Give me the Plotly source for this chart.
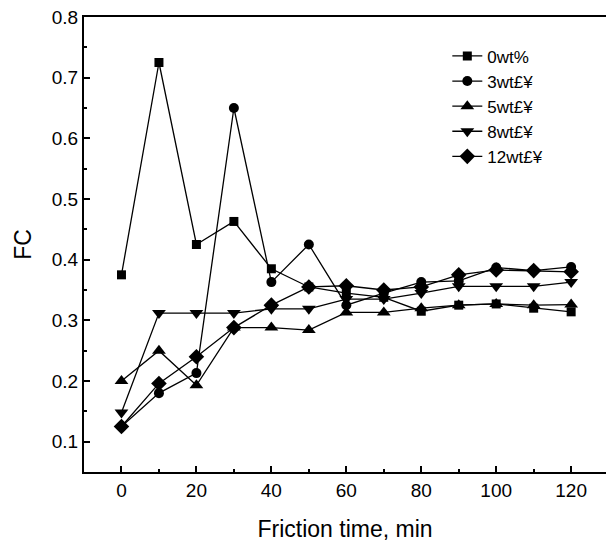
import plotly.graph_objects as go

time_min = [0, 10, 20, 30, 40, 50, 60, 70, 80, 90, 100, 110, 120]
fc_0wt = [0.375, 0.725, 0.425, 0.463, 0.385, 0.355, 0.345, 0.338, 0.315, 0.325, 0.327, 0.320, 0.314]
fc_3wt = [0.125, 0.180, 0.213, 0.650, 0.363, 0.425, 0.325, 0.345, 0.363, 0.365, 0.387, 0.382, 0.388]
fc_5wt = [0.200, 0.250, 0.193, 0.288, 0.288, 0.284, 0.313, 0.313, 0.320, 0.325, 0.327, 0.325, 0.326]
fc_8wt = [0.148, 0.312, 0.312, 0.312, 0.319, 0.319, 0.335, 0.335, 0.345, 0.356, 0.356, 0.356, 0.363]
fc_12wt = [0.125, 0.196, 0.240, 0.288, 0.325, 0.355, 0.357, 0.350, 0.355, 0.375, 0.383, 0.382, 0.380]

series_names = ["0wt%", "3wt£¥", "5wt£¥", "8wt£¥", "12wt£¥"]
series_values = [fc_0wt, fc_3wt, fc_5wt, fc_8wt, fc_12wt]
symbols = ["square", "circle", "triangle-up", "triangle-down", "diamond"]
sizes = [9, 10, 12, 12, 12]

FONT = "Liberation Sans, Arial, sans-serif"

fig = go.Figure()
for name, vals, sym, sz in zip(series_names, series_values, symbols, sizes):
    fig.add_trace(go.Scatter(
        x=time_min, y=vals, name=name, mode="lines+markers",
        line=dict(color="black", width=1.3),
        marker=dict(symbol=sym, size=sz, color="black", line=dict(width=0)),
    ))

fig.update_layout(
    width=606, height=542,
    margin=dict(l=84, r=0, t=17, b=70),
    paper_bgcolor="white", plot_bgcolor="white",
    font=dict(family=FONT, color="black", size=19),
    showlegend=True,
    legend=dict(
        x=0.696, y=0.953, xanchor="left", yanchor="top",
        bgcolor="rgba(0,0,0,0)", borderwidth=0,
        font=dict(family=FONT, size=17, color="black"),
        tracegroupgap=0, itemwidth=30,
    ),
)

fig.update_xaxes(
    range=[-10, 129.3], tickmode="array", automargin=False,
    tickvals=[0, 20, 40, 60, 80, 100, 120],
    ticks="inside", ticklen=6, tickwidth=1.5, tickcolor="black",
    minor=dict(tickvals=[10, 30, 50, 70, 90, 110], ticks="inside", ticklen=3, tickwidth=1.5, tickcolor="black"),
    showline=True, linecolor="black", linewidth=2, mirror=True,
    showgrid=False, zeroline=False,
    tickfont=dict(size=19, family=FONT),
    title=dict(text="Friction time, min", font=dict(size=23, family=FONT), standoff=25),
)
fig.update_yaxes(
    range=[0.05, 0.8], tickmode="array", automargin=False,
    tickvals=[0.1, 0.2, 0.3, 0.4, 0.5, 0.6, 0.7, 0.8],
    ticktext=["0.1", "0.2", "0.3", "0.4", "0.5", "0.6", "0.7", "0.8"],
    ticks="inside", ticklen=6, tickwidth=1.5, tickcolor="black",
    minor=dict(tickvals=[0.15, 0.25, 0.35, 0.45, 0.55, 0.65, 0.75], ticks="inside", ticklen=3, tickwidth=1.5, tickcolor="black"),
    showline=True, linecolor="black", linewidth=2, mirror=False,
    showgrid=False, zeroline=False,
    tickfont=dict(size=19, family=FONT),
    title=dict(text="FC", font=dict(size=23, family=FONT), standoff=14),
)

fig.write_html("out.html", config={"displayModeBar": False},
               post_script="document.body.style.margin='0';")
